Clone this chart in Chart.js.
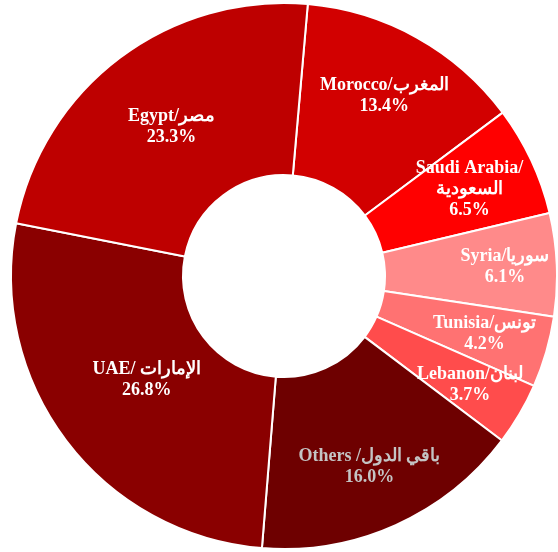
<!DOCTYPE html>
<html>
<head>
<meta charset="utf-8">
<script src="https://cdn.jsdelivr.net/npm/chart.js@4.4.0/dist/chart.umd.min.js"></script>
<style>
body{margin:0;background:#fff;}
#wrap{width:558px;height:552px;}
</style>
</head>
<body>
<div id="wrap"><canvas id="donut" width="558" height="552"></canvas></div>
<script>
const countries = ["Morocco/المغرب","Saudi Arabia/|السعودية","Syria/سوريا","Tunisia/تونس","Lebanon/لبنان","Others /باقي الدول","UAE/ الإمارات","Egypt/مصر"];
const shares = [13.4,6.5,6.1,4.2,3.7,16.0,26.8,23.3];
const colors = ["#d20000","#ff0000","#ff8a8a","#ff7272","#ff4c4c","#6e0000","#8a0000","#be0000"];
// where each label sits, as a fraction of the outer radius
const labelPos = [0.755,0.75,0.81,0.765,0.79,0.765,0.63,0.685];
const labelColor = ["#fff","#fff","#fff","#fff","#fff","#c4c4c4","#fff","#fff"];

const sliceLabels = {
id:"sliceLabels",
afterDatasetsDraw(chart){
const ctx = chart.ctx;
const meta = chart.getDatasetMeta(0);
ctx.save();
ctx.font = "bold 18px 'Liberation Serif','Times New Roman',serif";
ctx.textAlign = "center";
ctx.textBaseline = "middle";
meta.data.forEach((arc,i)=>{
const p = arc.getProps(["x","y","startAngle","endAngle","outerRadius"],true);
const mid = (p.startAngle+p.endAngle)/2;
const r = p.outerRadius*labelPos[i];
const cx = p.x+Math.cos(mid)*r;
const cy = p.y+Math.sin(mid)*r;
const lines = countries[i].split("|").concat([shares[i].toFixed(1)+"%"]);
const lh = 21;
ctx.fillStyle = labelColor[i];
lines.forEach((t,k)=>{
ctx.fillText(t,cx,cy+(k-(lines.length-1)/2)*lh);
});
});
ctx.restore();
}
};

new Chart(document.getElementById("donut"),{
type:"doughnut",
data:{
labels:countries,
datasets:[{
data:shares,
backgroundColor:colors,
borderColor:"#fff",
borderWidth:2
}]
},
options:{
responsive:false,
animation:false,
rotation:5,
cutout:"37%",
layout:{padding:{left:10}},
plugins:{legend:{display:false},tooltip:{enabled:false}}
},
plugins:[sliceLabels]
});
</script>
</body>
</html>
